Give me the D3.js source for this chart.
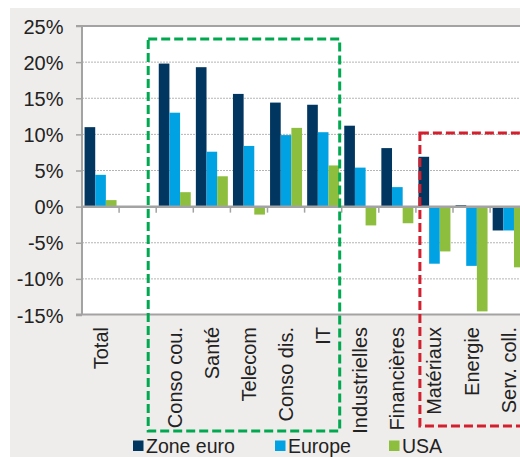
<!DOCTYPE html>
<html>
<head>
<meta charset="utf-8">
<script src="https://cdn.jsdelivr.net/npm/d3@7"></script>
<style>
  html, body { margin: 0; padding: 0; background: #ffffff; }
  svg { display: block; font-family: "Liberation Sans", Arial, Helvetica, sans-serif; }
</style>
</head>
<body>
<svg id="chart" width="520" height="457"></svg>
<script>
// Sector returns by region (%)
const categories = ["Total", "", "Conso cou.", "Santé", "Telecom", "Conso dis.", "IT",
                    "Industrielles", "Financières", "Matériaux", "Energie", "Serv. coll."];
const seriesNames = ["Zone euro", "Europe", "USA"];
const zoneEuro = [11.0, null, 19.8, 19.3, 15.6, 14.4, 14.1, 11.2, 8.1, 6.9, 0.2, -3.3];
const europe   = [4.4, null, 13.0, 7.6, 8.4, 9.9, 10.3, 5.4, 2.7, -7.9, -8.2, -3.3];
const usa      = [0.9, null, 2.0, 4.2, -1.1, 10.9, 5.7, -2.6, -2.3, -6.2, -14.5, -8.4];
const yTicks   = [25, 20, 15, 10, 5, 0, -5, -10, -15];

const colors = ["#003660", "#00a2e3", "#8dbe3d"];
const seriesValues = [zoneEuro, europe, usa];

const svg = d3.select("#chart");

// Panel background
svg.append("rect").attr("x", 10).attr("y", 8).attr("width", 510).attr("height", 449)
  .attr("fill", "#eeedeb");

const plotLeft = 82, plotTop = 26, plotBottom = 315;
const bandW = 37.1;
const x = d3.scaleBand().domain(categories)
  .range([plotLeft, plotLeft + bandW * categories.length]).paddingInner(0).paddingOuter(0);
const y = d3.scaleLinear().domain([-15, 25]).range([plotBottom, plotTop]);

const inner = d3.scaleBand().domain(seriesNames).range([0, x.bandwidth()])
  .paddingOuter(0.24).paddingInner(0);

// Plot area
svg.append("rect").attr("x", plotLeft).attr("y", plotTop)
  .attr("width", 520 - plotLeft).attr("height", plotBottom - plotTop)
  .attr("fill", "#ffffff");

// Dotted gridlines
svg.append("g").selectAll("line")
  .data(yTicks.filter(t => t !== 0 && t !== 25 && t !== -15))
  .join("line")
  .attr("x1", plotLeft).attr("x2", 520)
  .attr("y1", d => y(d)).attr("y2", d => y(d))
  .attr("stroke", "#b5b5b5").attr("stroke-width", 1).attr("stroke-dasharray", "2,1");

// Bars
const barData = [];
categories.forEach((c, i) => {
  seriesNames.forEach((s, k) => {
    const v = seriesValues[k][i];
    if (v !== null) barData.push({ c, s, v, k });
  });
});
svg.append("g").selectAll("rect")
  .data(barData)
  .join("rect")
  .attr("x", d => x(d.c) + inner(d.s))
  .attr("width", inner.bandwidth())
  .attr("y", d => y(Math.max(0, d.v)))
  .attr("height", d => Math.abs(y(d.v) - y(0)))
  .attr("fill", d => colors[d.k]);

// Frame: top and bottom borders
const axisColor = "#a3a3a3";
svg.append("line").attr("x1", plotLeft - 6).attr("x2", 520).attr("y1", plotTop).attr("y2", plotTop)
  .attr("stroke", axisColor).attr("stroke-width", 2);
svg.append("line").attr("x1", plotLeft - 6).attr("x2", 520)
  .attr("y1", plotBottom - 0.5).attr("y2", plotBottom - 0.5)
  .attr("stroke", axisColor).attr("stroke-width", 2);

// Y axis
const yAxis = d3.axisLeft(y).tickValues(yTicks).tickSize(6).tickFormat(d => d + "%");
const gy = svg.append("g").attr("transform", `translate(${plotLeft},0)`).call(yAxis);
gy.select(".domain").attr("stroke", axisColor).attr("stroke-width", 2)
  .attr("d", `M0,${plotTop}V${plotBottom}`);
gy.selectAll(".tick line").attr("stroke", axisColor).attr("stroke-width", 1.5);
gy.selectAll(".tick text").attr("x", -18.5).attr("dy", "0.35em")
  .attr("font-size", 20).attr("fill", "#222").attr("font-family", "Liberation Sans, Arial, sans-serif");

// Zero line with category separators
svg.append("line").attr("x1", plotLeft).attr("x2", 520).attr("y1", y(0)).attr("y2", y(0))
  .attr("stroke", axisColor).attr("stroke-width", 2.5);
svg.append("g").selectAll("line")
  .data(categories.slice(1))
  .join("line")
  .attr("x1", d => x(d)).attr("x2", d => x(d))
  .attr("y1", y(0)).attr("y2", y(0) + 6)
  .attr("stroke", axisColor).attr("stroke-width", 1.5);

// Category labels (rotated)
svg.append("g").selectAll("text")
  .data(categories)
  .join("text")
  .attr("transform", d => `translate(${x(d) + x.bandwidth() / 2},${plotBottom + 12}) rotate(-90)`)
  .attr("dy", "0.35em")
  .attr("text-anchor", "end")
  .attr("font-size", 20)
  .attr("fill", "#222")
  .text(d => d);

// Highlight boxes
svg.append("rect")
  .attr("x", x("Conso cou.") - 8).attr("y", y(23.2))
  .attr("width", x("IT") + x.bandwidth() - 2 - (x("Conso cou.") - 8))
  .attr("height", 431 - y(23.2))
  .attr("fill", "none").attr("stroke", "#00a94f").attr("stroke-width", 3)
  .attr("stroke-dasharray", "9,4");
svg.append("rect")
  .attr("x", x("Matériaux") + 4).attr("y", y(10.2))
  .attr("width", 140)
  .attr("height", 426 - y(10.2))
  .attr("fill", "none").attr("stroke", "#d2202e").attr("stroke-width", 3)
  .attr("stroke-dasharray", "9,4");

// Legend
const legendX = [133, 275, 389];
const lg = svg.append("g").selectAll("g")
  .data(seriesNames)
  .join("g")
  .attr("transform", (d, i) => `translate(${legendX[i]},440.5)`);
lg.append("rect").attr("width", 10.5).attr("height", 10.5).attr("fill", (d, i) => colors[i]);
lg.append("text").attr("x", 13).attr("y", 12.3)
  .attr("font-size", 19.5).attr("fill", "#222").text(d => d);
</script>
</body>
</html>
